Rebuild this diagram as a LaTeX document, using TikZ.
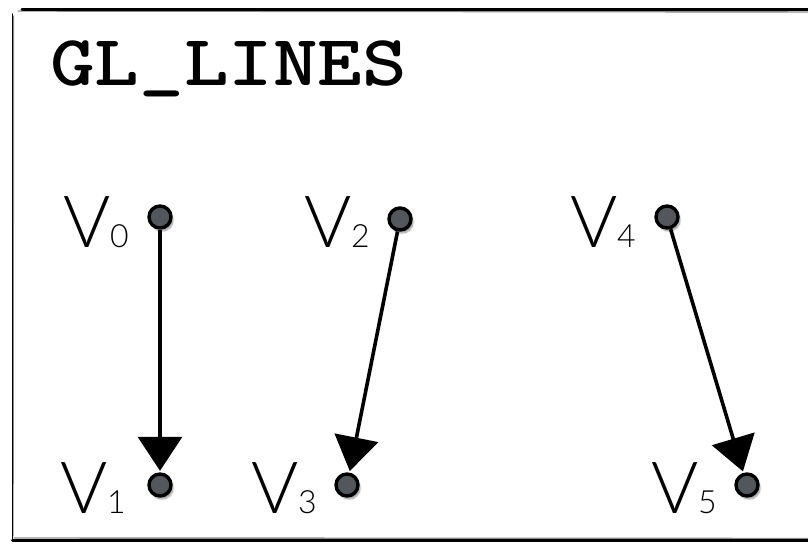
\documentclass[tikz,border=0pt]{standalone}
\usepackage{fontspec}
\newfontfamily\vfont{Lato Light}
\usetikzlibrary{arrows.meta,positioning,calc,shadows.blur}
\definecolor{vgray}{RGB}{82,86,93}
\tikzset{
  frame/.style={draw=black, line width=3pt, line cap=round},
  roughline/.style={draw=black, line width=1.4pt, opacity=0.45, line cap=round},
  vert/.style={circle, draw=black, line width=3.4pt, fill=vgray, minimum size=22pt, inner sep=0pt,
    blur shadow={shadow xshift=2pt, shadow yshift=-3pt, shadow blur steps=10, shadow opacity=45}},
  vlab/.style={inner sep=0pt, anchor=base east, font=\vfont\fontsize{72}{72}\selectfont},
  edge/.style={-{Triangle[length=34pt, width=44pt]}, line width=3.6pt, black, shorten >=1.5pt},
  title/.style={inner sep=0pt, anchor=base west,
    font=\ttfamily\bfseries\fontsize{72}{72}\selectfont\addfontfeatures{FakeBold=1.6}},
}
\newcommand{\vsub}[1]{V{\fontsize{32}{32}\selectfont #1}}

\begin{document}
\begin{tikzpicture}[x=1pt, y=-1pt]
\useasboundingbox (0,0) rectangle (808,544);
\clip (0,0) rectangle (808,544);

% sketchy frame, open to the right
\draw[frame] (840,9.5) -- (22,9.5);
\draw[roughline] (830,12) -- (18,11);
\draw[frame, line width=1.8pt] (12.5,14) -- (12.5,540);
\draw[roughline] (13.5,16) -- (13,536);
\draw[frame] (12.5,540) -- (840,540);
\draw[roughline] (14,538) -- (830,538.5);

\node[title] (ttl) at (50,85) {\scalebox{1.18}[1]{GL\_LINES}};

% vertices
\node[vert] (v0) at (160,217) {};
\node[vert] (v1) at (160,485) {};
\node[vert] (v2) at (400,219) {};
\node[vert] (v3) at (347,485) {};
\node[vert] (v4) at (667,217) {};
\node[vert] (v5) at (747,485) {};

\node[vlab] (l0) at ($(v0)+(-31,30)$) {\vsub{0}};
\node[vlab] (l1) at ($(v1)+(-34,28)$) {\vsub{1}};
\node[vlab] (l2) at ($(v2)+(-30,28)$) {\vsub{2}};
\node[vlab] (l3) at ($(v3)+(-30,28)$) {\vsub{3}};
\node[vlab] (l4) at ($(v4)+(-31,30)$) {\vsub{4}};
\node[vlab] (l5) at ($(v5)+(-30,28)$) {\vsub{5}};

% line pairs
\draw[edge] (v0) -- (v1);
\draw[edge] (v2) -- (v3);
\draw[edge] (v4) -- (v5);

\end{tikzpicture}
\end{document}
